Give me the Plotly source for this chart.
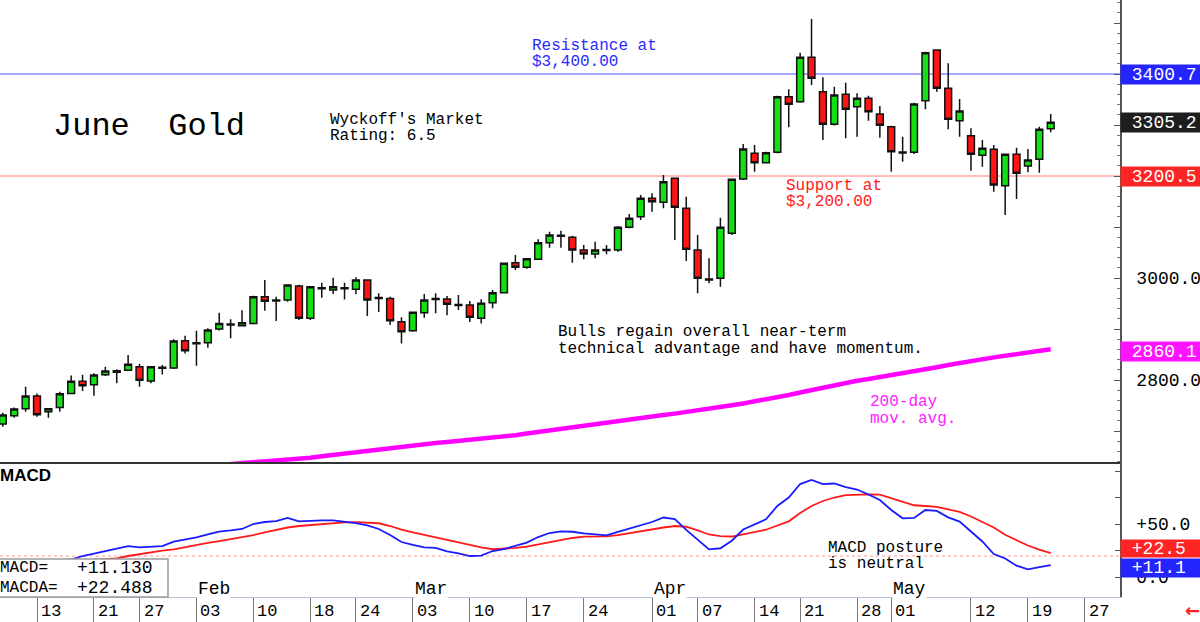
import plotly.graph_objects as go
from plotly.subplots import make_subplots

# ---------------- data ----------------
# trading-day index (0 = Jan 13)
days = list(range(-3, 90))
opens = [2713.5, 2729.8, 2743.5, 2768.4, 2737.7, 2746.3, 2773.7, 2797.3, 2790.6, 2810.2,
         2818.0, 2819.0, 2826.0, 2797.9, 2825.0, 2823.4, 2877.0, 2871.0, 2873.0, 2899.9,
         2910.0, 2906.4, 2911.0, 2963.3, 2955.0, 2956.8, 2984.3, 2920.9, 2981.0, 2976.4,
         2981.0, 2977.8, 2996.0, 2960.0, 2960.0, 2914.2, 2896.5, 2931.9, 2958.0, 2958.8,
         2948.0, 2947.0, 2920.9, 2951.5, 2971.1, 3029.9, 3020.9, 3036.6, 3069.2, 3084.0,
         3079.8, 3054.9, 3047.0, 3054.0, 3054.9, 3099.3, 3120.1, 3156.2, 3148.4, 3195.4,
         3136.6, 3054.9, 2996.0, 2999.3, 3087.6, 3194.0, 3244.5, 3226.0, 3246.4, 3355.5,
         3345.7, 3432.7, 3365.3, 3301.3, 3360.2, 3335.8, 3352.3, 3321.5, 3296.6, 3247.0,
         3246.4, 3347.6, 3447.0, 3371.9, 3308.3, 3279.0, 3240.5, 3252.3, 3180.9, 3242.5,
         3219.6, 3232.7, 3292.7]
highs = [2735.7, 2746.3, 2786.7, 2773.7, 2744.5, 2776.9, 2809.0, 2810.2, 2813.0, 2826.0,
         2821.0, 2849.0, 2831.2, 2827.3, 2829.4, 2879.7, 2886.7, 2896.5, 2901.3, 2931.9,
         2919.0, 2936.6, 2965.2, 2996.0, 2963.3, 2987.6, 2986.7, 2984.3, 2990.7, 3000.5,
         2990.7, 3001.3, 2997.4, 2970.0, 2963.3, 2922.8, 2933.8, 2968.5, 2970.0, 2964.7,
         2966.6, 2954.8, 2958.2, 2976.4, 3029.9, 3045.0, 3039.2, 3075.8, 3090.7, 3092.7,
         3082.9, 3064.7, 3071.0, 3064.7, 3101.8, 3125.4, 3162.6, 3166.0, 3201.8, 3197.0,
         3159.4, 3084.3, 3038.6, 3118.2, 3195.0, 3262.7, 3260.7, 3247.6, 3357.4, 3370.0,
         3441.7, 3507.8, 3393.5, 3375.0, 3382.9, 3362.1, 3357.4, 3337.2, 3298.5, 3277.0,
         3343.7, 3443.7, 3448.4, 3420.9, 3350.9, 3293.5, 3270.5, 3260.7, 3243.5, 3255.4,
         3252.9, 3296.6, 3321.5]
lows = [2708.3, 2726.0, 2737.7, 2727.9, 2726.0, 2737.7, 2772.4, 2778.3, 2769.0, 2807.7,
        2793.4, 2818.0, 2786.7, 2793.4, 2811.0, 2821.5, 2852.2, 2827.9, 2863.2, 2897.3,
        2881.7, 2905.0, 2909.6, 2935.8, 2915.6, 2953.5, 2917.5, 2917.5, 2961.3, 2968.6,
        2958.0, 2968.0, 2925.4, 2933.3, 2907.7, 2871.8, 2894.5, 2922.0, 2930.7, 2926.8,
        2937.2, 2913.6, 2911.0, 2940.5, 2970.0, 3015.6, 3018.2, 3035.2, 3059.3, 3059.3,
        3029.9, 3036.6, 3038.5, 3046.4, 3051.5, 3097.4, 3113.6, 3129.9, 3136.6, 3074.4,
        3033.2, 2970.0, 2989.6, 2982.8, 3084.3, 3192.0, 3208.3, 3224.8, 3244.5, 3295.4,
        3343.7, 3378.4, 3270.5, 3299.0, 3273.8, 3277.0, 3308.3, 3275.0, 3208.3, 3228.0,
        3243.0, 3330.8, 3365.3, 3291.5, 3277.0, 3210.3, 3218.0, 3169.0, 3123.4, 3154.9,
        3207.2, 3206.4, 3285.6]
closes = [2731.2, 2743.0, 2768.4, 2731.8, 2743.5, 2773.0, 2797.3, 2788.6, 2809.6, 2817.5,
          2815.0, 2830.7, 2799.3, 2826.0, 2823.0, 2876.4, 2857.3, 2873.0, 2897.9, 2911.0,
          2908.0, 2912.2, 2963.3, 2954.2, 2957.0, 2986.2, 2920.9, 2982.9, 2979.0, 2982.9,
          2979.0, 2996.0, 2956.8, 2962.0, 2916.1, 2894.5, 2932.6, 2956.8, 2960.0, 2948.4,
          2946.0, 2922.9, 2950.3, 2971.1, 3028.8, 3020.9, 3037.8, 3069.2, 3084.3, 3082.0,
          3054.9, 3047.0, 3054.9, 3056.0, 3099.3, 3117.0, 3156.2, 3149.5, 3188.7, 3138.5,
          3056.2, 2999.3, 2998.0, 3099.3, 3193.4, 3252.9, 3226.0, 3245.6, 3355.5, 3340.5,
          3432.7, 3391.5, 3301.3, 3358.8, 3330.8, 3352.3, 3326.0, 3299.3, 3247.5, 3245.0,
          3341.1, 3441.7, 3371.9, 3311.1, 3327.4, 3242.5, 3254.2, 3182.2, 3242.5, 3205.2,
          3231.3, 3291.5, 3305.2]

ma_days = list(range(15, 90))
ma200 = [2631.5, 2633.2, 2634.9, 2636.5, 2638.0, 2639.7, 2641.3, 2643.0, 2645.0, 2647.6,
         2650.4, 2653.2, 2656.0, 2658.8, 2661.2, 2663.8, 2666.3, 2668.9, 2671.4, 2674.0,
         2676.5, 2678.4, 2680.3, 2682.1, 2684.0, 2685.9, 2688.5, 2691.7, 2694.9, 2698.1,
         2701.3, 2704.5, 2707.5, 2710.5, 2713.5, 2716.5, 2719.5, 2722.5, 2725.4, 2728.3,
         2731.2, 2734.1, 2737.0, 2739.9, 2743.0, 2746.7, 2750.4, 2754.1, 2757.8, 2761.5,
         2765.5, 2770.5, 2775.5, 2780.5, 2785.5, 2790.5, 2795.0, 2798.5, 2802.0, 2805.5,
         2809.0, 2812.5, 2816.5, 2820.8, 2825.1, 2829.4, 2833.7, 2838.0, 2841.2, 2844.4,
         2847.6, 2850.8, 2853.9, 2857.0, 2860.1]

macd = [1.9, 5.7, 9.4, 12.3, 15.1, 16.0, 16.5, 19.8, 22.2, 25.0,
        27.4, 29.2, 28.0, 28.8, 29.2, 33.3, 35.2, 37.3, 40.1, 42.9,
        43.9, 45.3, 50.0, 51.9, 52.8, 55.8, 52.4, 53.3, 53.5, 53.5,
        52.4, 50.9, 48.6, 45.3, 39.6, 33.0, 30.2, 27.9, 27.4, 24.1,
        22.2, 19.8, 20.1, 24.5, 26.4, 29.2, 32.4, 37.7, 41.5, 43.1,
        42.7, 41.1, 39.8, 39.2, 42.5, 45.8, 49.1, 51.9, 56.1, 54.7,
        44.5, 35.4, 26.1, 27.1, 34.2, 44.8, 49.5, 54.4, 67.0, 75.0,
        87.7, 91.5, 87.7, 88.2, 84.9, 82.5, 77.8, 72.6, 63.2, 55.4,
        55.7, 63.2, 62.3, 56.3, 52.3, 42.8, 33.5, 21.7, 17.5, 10.7,
        7.3, 9.4, 11.13]
macda = [1.9, 4.7, 7.1, 9.4, 11.3, 13.2, 14.6, 15.6, 16.0, 16.5,
         17.5, 19.8, 21.7, 23.1, 24.8, 26.1, 28.3, 30.2, 32.1, 33.8,
         35.6, 37.5, 39.6, 42.0, 44.3, 46.7, 48.1, 49.1, 50.2, 50.9,
         51.6, 51.7, 51.3, 50.7, 48.1, 44.6, 42.0, 39.6, 37.3, 35.1,
         32.5, 30.2, 28.0, 26.2, 26.6, 27.4, 28.6, 30.7, 32.7, 34.9,
         36.8, 38.1, 38.3, 38.4, 39.6, 41.5, 42.8, 44.8, 46.7, 48.1,
         47.4, 43.9, 40.1, 38.5, 38.2, 40.3, 42.5, 44.6, 48.6, 52.5,
         60.4, 67.0, 71.7, 75.0, 77.2, 77.7, 78.0, 77.7, 74.5, 70.8,
         67.7, 67.0, 66.2, 63.7, 61.4, 57.1, 52.1, 46.7, 39.8, 34.9,
         29.7, 25.9, 22.49]

tick_days = [0, 5, 9, 14, 19, 24, 28, 33, 38, 43, 48, 54, 58, 63, 67, 72, 75, 82, 87, 92]
tick_labels = ["13", "21", "27", "03", "10", "18", "24", "03", "10", "17",
               "24", "01", "07", "14", "21", "28", "01", "12", "19", "27"]
month_days = [14, 33, 54, 75]
month_labels = ["Feb", "Mar", "Apr", "May"]

price_ticks = [2700, 2800, 2900, 3000, 3100, 3200, 3300, 3400, 3500]
price_ticktext = ["", "2800.0", "", "3000.0", "", "", "", "", ""]
macd_ticks = [0, 25, 50, 75, 100]
macd_ticktext = ["0.0", "", "+50.0", "", ""]

resistance = 3400.0
support = 3200.0
last_close = 3305.2
ma_last = 2860.1
macd_last = 11.130
macda_last = 22.488
macd_ref = 19.8

# ---------------- layout helpers ----------------
W, H = 1200, 622
PW, PH = 1120, 597          # plot area size in px
MONO = "Liberation Mono"


def px(x):
    return x / PW


def py(y):
    return 1 - y / PH


fig = make_subplots(rows=2, cols=1, shared_xaxes=True, vertical_spacing=0,
                    row_heights=[463 / PH, 1 - 463 / PH])

fig.add_trace(go.Scatter(x=ma_days, y=ma200, mode="lines",
                         line=dict(color="#ff00ff", width=4.5),
                         hoverinfo="skip", showlegend=False), row=1, col=1)

fig.add_trace(go.Candlestick(
    x=days, open=opens, high=highs, low=lows, close=closes,
    increasing=dict(line=dict(color="#111111", width=1.5), fillcolor="#12e012"),
    decreasing=dict(line=dict(color="#111111", width=1.5), fillcolor="#ff1414"),
    whiskerwidth=0, showlegend=False), row=1, col=1)

fig.add_trace(go.Scatter(x=days, y=macda, mode="lines",
                         line=dict(color="#ff1a1a", width=1.8),
                         hoverinfo="skip", showlegend=False), row=2, col=1)
fig.add_trace(go.Scatter(x=days, y=macd, mode="lines",
                         line=dict(color="#1a1aff", width=1.8),
                         hoverinfo="skip", showlegend=False), row=2, col=1)

# horizontal reference lines
fig.add_shape(type="line", xref="paper", x0=0, x1=1, yref="y", y0=resistance, y1=resistance,
              line=dict(color="#5050ff", width=1), layer="below")
fig.add_shape(type="line", xref="paper", x0=0, x1=1, yref="y", y0=support, y1=support,
              line=dict(color="#ff7a7a", width=1), layer="below")
fig.add_shape(type="line", xref="paper", x0=0, x1=1, yref="y2", y0=macd_ref, y1=macd_ref,
              line=dict(color="#ff9a9a", width=1, dash="dot"), layer="below")
# panel separator
fig.add_shape(type="line", xref="paper", x0=0, x1=1, yref="paper", y0=py(463), y1=py(463),
              line=dict(color="#333333", width=2))

# MACD value box
fig.add_shape(type="rect", xref="paper", yref="paper", x0=-0.01, x1=px(168),
              y0=py(597), y1=py(559), fillcolor="white",
              line=dict(color="#9a9a9a", width=1.5), layer="above")


def label(text, x, y, color="black", size=16, family=MONO, bg=None):
    fig.add_annotation(text=text, xref="paper", yref="paper", x=px(x), y=py(y),
                       xanchor="left", yanchor="middle", showarrow=False,
                       font=dict(family=family, size=size, color=color),
                       bgcolor=bg, borderpad=0)


label("June  Gold", 52, 126, size=32)
label("Wyckoff's Market", 329, 120)
label("Rating: 6.5", 329, 136)
label("Resistance at", 531, 46, color="#2a2aff")
label("$3,400.00", 531, 62, color="#2a2aff")
label("Support at", 785, 186, color="#ff1a1a")
label("$3,200.00", 785, 202, color="#ff1a1a")
label("Bulls regain overall near-term", 557, 332)
label("technical advantage and have momentum.", 557, 349)
label("200-day", 869, 402, color="#ff20ff")
label("mov. avg.", 869, 419, color="#ff20ff")
label("<b>MACD</b>", -1, 475, size=17, family="Liberation Sans")
label("MACD posture", 827, 548)
label("is neutral", 827, 564)
label("MACD=", -1, 568, size=16)
label("MACDA=", -1, 588, size=16)
label("%+.3f" % macd_last, 76, 568, size=18)
label("%+.3f" % macda_last, 76, 588, size=18)

# month labels (sitting on the axis line)
for d, m in zip(month_days, month_labels):
    fig.add_annotation(text=m, xref="x2", yref="paper", x=d, y=py(589), xanchor="left",
                       yanchor="middle", xshift=1, showarrow=False, bgcolor="white",
                       borderpad=0, font=dict(family=MONO, size=18, color="black"))
# date labels
for d, t in zip(tick_days, tick_labels):
    fig.add_annotation(text=t, xref="x2", yref="paper", x=d, y=py(611), xanchor="left",
                       yanchor="middle", xshift=2, showarrow=False,
                       font=dict(family=MONO, size=17, color="black"))


# right axis value boxes
def vbox(text, yref, val, bg, yshift=0, h=19):
    fig.add_annotation(text="&nbsp;" + text, xref="paper", yref=yref, x=1.0, y=val,
                       xanchor="left", yanchor="middle", showarrow=False, yshift=yshift,
                       width=80, height=h, align="left", bgcolor=bg, borderpad=0,
                       font=dict(family=MONO, size=18, color="white"))


vbox("3400.7", "y", resistance, "#2424ff")
vbox("%.1f" % last_close, "y", last_close, "#1e1e1e")
vbox("3200.5", "y", support, "#ff2424")
vbox("%.1f" % ma_last, "y", ma_last, "#ff14ff", yshift=-2)
vbox("%+.1f" % macda_last, "y2", macda_last, "#ff2424", yshift=5, h=17)
vbox("%+.1f" % macd_last, "y2", macd_last, "#2424ff", yshift=-3, h=18)

fig.add_annotation(text="<b>\u2190</b>", xref="paper", yref="paper", x=px(1183), y=py(610),
                   xanchor="left", yanchor="middle", showarrow=False,
                   font=dict(family="DejaVu Sans", size=18, color="#ff2020"))

xr = [-37 / 11.39, (PW - 37) / 11.39]
fig.update_layout(
    width=W, height=H,
    margin=dict(l=0, r=W - PW, t=0, b=H - PH, pad=0),
    paper_bgcolor="white", plot_bgcolor="white",
    showlegend=False, boxgap=0.4, boxgroupgap=0,
    font=dict(family=MONO, color="black"),
    xaxis=dict(range=xr, showgrid=False, zeroline=False, showticklabels=False,
               ticks="", showline=False, rangeslider=dict(visible=False)),
    xaxis2=dict(range=xr, showgrid=False, zeroline=False, showticklabels=False,
                tickmode="array", tickvals=tick_days, ticks="outside", ticklen=25,
                tickcolor="#7a7a7a", tickwidth=1, showline=True,
                linecolor="#b8bedc", linewidth=1),
    yaxis=dict(side="right", range=[3545.1 - 463 * 1.9608, 3545.1], showgrid=False,
               zeroline=False, showline=True, linecolor="#555555", linewidth=1.5,
               tickmode="array", tickvals=price_ticks, ticktext=price_ticktext,
               ticks="inside", ticklen=6, tickcolor="#555555",
               minor=dict(tickmode="linear", tick0=0, dtick=20, ticks="inside",
                          ticklen=3, tickcolor="#777777"),
               tickfont=dict(family=MONO, size=18, color="black"),
               ticklabelstandoff=11, automargin=False),
    yaxis2=dict(side="right", range=[(577 - 597) / 1.06, (577 - 463) / 1.06],
                showgrid=False, zeroline=False, showline=True, linecolor="#555555",
                linewidth=1.5, tickmode="array", tickvals=macd_ticks,
                ticktext=macd_ticktext, ticks="inside", ticklen=5, tickcolor="#555555",
                tickfont=dict(family=MONO, size=18, color="black"),
                ticklabelstandoff=11, automargin=False),
)

fig.write_html("out.html")
